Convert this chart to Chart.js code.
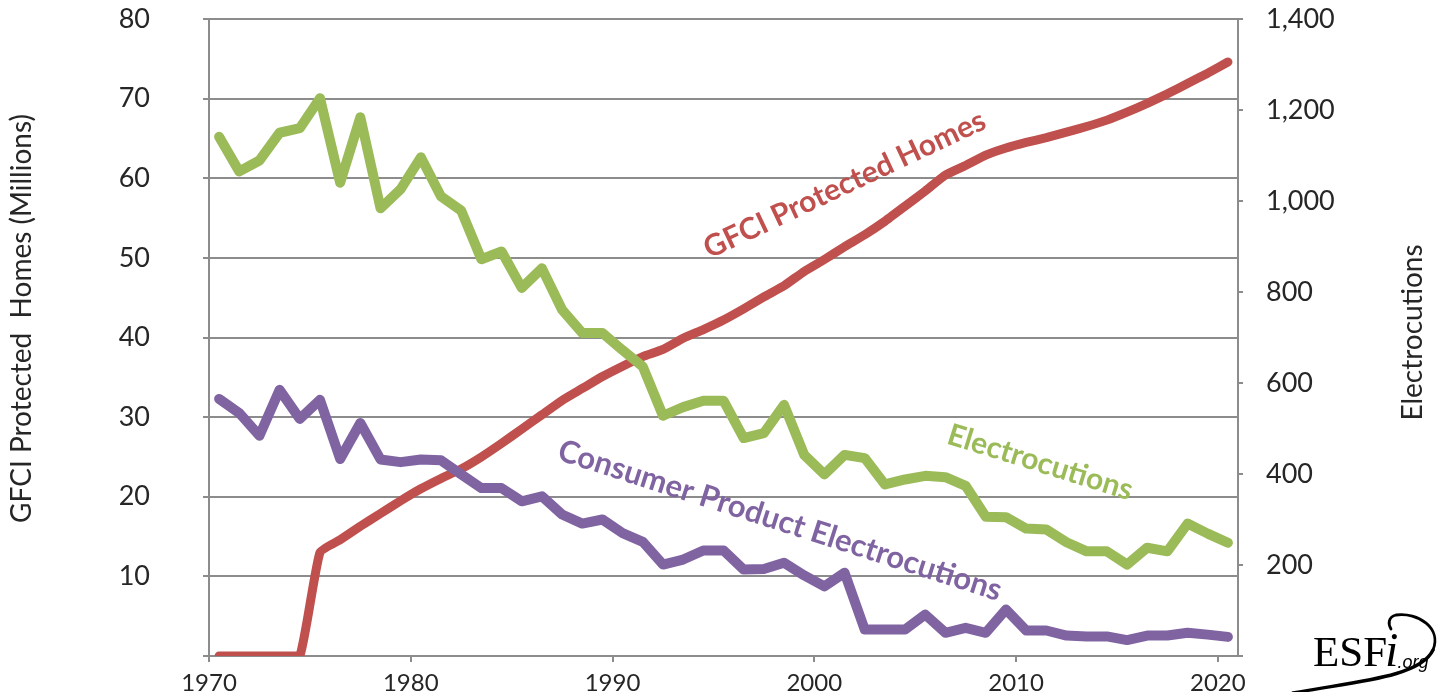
<!DOCTYPE html>
<html>
<head>
<meta charset="utf-8">
<script src="https://cdn.jsdelivr.net/npm/chart.js@4.4.1/dist/chart.umd.min.js"></script>
<style>
  html, body { margin: 0; padding: 0; background: #ffffff; }
  #wrap { width: 1440px; height: 692px; position: relative; }
</style>
</head>
<body>
<div id="wrap"><canvas id="chart" width="1440" height="692"></canvas></div>
<script>
// ---------------- DATA ----------------
const years = [1970,1971,1972,1973,1974,1975,1976,1977,1978,1979,
               1980,1981,1982,1983,1984,1985,1986,1987,1988,1989,
               1990,1991,1992,1993,1994,1995,1996,1997,1998,1999,
               2000,2001,2002,2003,2004,2005,2006,2007,2008,2009,
               2010,2011,2012,2013,2014,2015,2016,2017,2018,2019,2020];

// GFCI protected homes (millions) – left axis
const gfciHomes = [0,0,0,0,0,13.0,14.6,16.3,17.9,19.5,
                   21.0,22.3,23.5,25.0,26.7,28.5,30.3,32.1,33.6,35.1,
                   36.4,37.6,38.5,39.9,41.0,42.2,43.6,45.1,46.5,48.3,
                   49.8,51.4,52.9,54.6,56.5,58.4,60.4,61.6,62.9,63.8,
                   64.5,65.1,65.8,66.5,67.3,68.3,69.4,70.6,71.9,73.2,74.6];

// Electrocutions – right axis
const electrocutions = [1141,1065,1089,1150,1160,1226,1040,1184,984,1026,
                        1096,1010,979,872,889,809,852,761,710,710,
                        672,636,528,547,561,561,479,490,552,442,
                        399,442,435,377,388,396,393,374,306,305,
                        280,278,250,230,230,201,238,230,291,269,249];

// Consumer product electrocutions – right axis
const consumerElectrocutions = [565,534,484,585,521,563,433,512,432,426,
                                432,430,399,369,369,340,351,311,291,300,
                                270,251,201,212,232,232,190,191,205,177,
                                153,183,58,58,58,91,51,62,51,102,
                                56,56,45,43,43,35,45,45,51,47,42];

const xTickLabels = ['1970','1980','1990','2000','2010','2020'];
const leftTickLabels = ['','10','20','30','40','50','60','70','80'];
const rightTickLabels = ['','200','400','600','800','1,000','1,200','1,400'];

const seriesNames = ['Consumer Product Electrocutions','Electrocutions','GFCI Protected Homes'];
const axisTitles = { left: 'GFCI Protected  Homes (Millions)', right: 'Electrocutions' };

// ---------------- STYLE ----------------
const RED = '#C0504D', GREEN = '#9BBB59', PURPLE = '#8064A2';
const GRID = '#8C8C8C', TEXT = '#262626';
const FONT = 'Lato, "Open Sans", sans-serif';
const YEAR_MID = 0.5; // each yearly value is plotted mid-year

const toPoints = (vals) => vals.map((v, i) => ({ x: years[i] + YEAR_MID, y: v }));

// Rotated in-chart series labels, placed in data coordinates
const seriesLabelPlugin = {
  id: 'seriesLabels',
  afterDatasetsDraw(chart, args, opts) {
    const ctx = chart.ctx;
    const xs = chart.scales.x, ys = chart.scales.y;
    opts.items.forEach(it => {
      const px = xs.getPixelForValue(it.x);
      const py = ys.getPixelForValue(it.y);
      ctx.save();
      ctx.translate(px, py);
      ctx.rotate(it.angle * Math.PI / 180);
      ctx.font = 'bold ' + it.size + 'px ' + FONT;
      ctx.fillStyle = it.color;
      ctx.textAlign = 'center';
      ctx.textBaseline = 'middle';
      ctx.fillText(it.text, 0, 0);
      ctx.restore();
    });
  }
};

// Axis titles
const axisTitlePlugin = {
  id: 'axisTitles',
  afterDraw(chart, args, opts) {
    const ctx = chart.ctx;
    const ca = chart.chartArea;
    ctx.save();
    ctx.font = opts.size + 'px ' + FONT;
    ctx.fillStyle = TEXT;
    ctx.textAlign = 'center';
    ctx.textBaseline = 'middle';
    ctx.save();
    ctx.translate(opts.leftX, (ca.top + ca.bottom) / 2 + opts.leftShift);
    ctx.rotate(-Math.PI / 2);
    ctx.fillText(axisTitles.left, 0, 0);
    ctx.restore();
    ctx.save();
    ctx.translate(chart.width - opts.rightInset, (ca.top + ca.bottom) / 2 + opts.rightShift);
    ctx.rotate(-Math.PI / 2);
    ctx.fillText(axisTitles.right, 0, 0);
    ctx.restore();
    ctx.restore();
  }
};

// ESFi.org logo (bottom-right corner)
const logoPlugin = {
  id: 'logo',
  afterDraw(chart) {
    const ctx = chart.ctx;
    const W = chart.width, H = chart.height;
    ctx.save();
    ctx.fillStyle = '#000';
    ctx.textAlign = 'left';
    ctx.textBaseline = 'alphabetic';
    const bx = W - 127, by = H - 26;
    ctx.font = '43px "Liberation Serif", "DejaVu Serif", serif';
    ctx.fillText('ESF', bx, by);
    let w = ctx.measureText('ESF').width;
    ctx.font = 'italic 48px "Liberation Serif", "DejaVu Serif", serif';
    ctx.fillText('i', bx + w - 2, by);
    w += ctx.measureText('i').width - 3;
    ctx.font = 'italic 18px "Liberation Sans", Arial, sans-serif';
    ctx.fillText('.org', bx + w, by + 2);
    ctx.strokeStyle = '#000';
    ctx.lineCap = 'round';
    ctx.beginPath();
    ctx.moveTo(W - 147, H + 1);
    ctx.bezierCurveTo(W - 90, H - 10, W - 20, H - 14, W - 7, H - 42);
    ctx.lineWidth = 3.4;
    ctx.stroke();
    ctx.beginPath();
    ctx.moveTo(W - 7, H - 42);
    ctx.bezierCurveTo(W + 2, H - 64, W - 22, H - 80, W - 44, H - 77);
    ctx.bezierCurveTo(W - 52, H - 75, W - 52, H - 68, W - 49, H - 63);
    ctx.lineWidth = 2.8;
    ctx.stroke();
    ctx.restore();
  }
};

const noVerticalPadding = (s) => { s.paddingTop = 0; s.paddingBottom = 0; };

const ctx = document.getElementById('chart').getContext('2d');
new Chart(ctx, {
  type: 'line',
  data: {
    datasets: [
      { label: seriesNames[0], data: toPoints(consumerElectrocutions), yAxisID: 'y1',
        borderColor: PURPLE, borderWidth: 10, pointRadius: 0, tension: 0,
        borderJoinStyle: 'round', borderCapStyle: 'round', fill: false },
      { label: seriesNames[1], data: toPoints(electrocutions), yAxisID: 'y1',
        borderColor: GREEN, borderWidth: 10, pointRadius: 0, tension: 0,
        borderJoinStyle: 'round', borderCapStyle: 'round', fill: false },
      { label: seriesNames[2], data: toPoints(gfciHomes), yAxisID: 'y',
        borderColor: RED, borderWidth: 9, pointRadius: 0, tension: 0.15,
        borderJoinStyle: 'round', borderCapStyle: 'round', fill: false }
    ]
  },
  options: {
    responsive: false,
    animation: false,
    events: [],
    layout: { padding: { top: 19, left: 0, right: 0, bottom: 0 } },
    plugins: {
      legend: { display: false },
      tooltip: { enabled: false },
      seriesLabels: {
        items: [
          { text: seriesNames[2], color: RED, x: 2001.5, y: 59.2, angle: -25.3, size: 30 },
          { text: seriesNames[1], color: GREEN, x: 2011.2, y: 24.3, angle: 17.3, size: 30 },
          { text: seriesNames[0], color: PURPLE, x: 1998.3, y: 17.0, angle: 17.8, size: 31 }
        ]
      },
      axisTitles: { size: 28, leftX: 22, leftShift: -19, rightInset: 27, rightShift: -5 }
    },
    scales: {
      x: {
        type: 'linear',
        min: 1970, max: 2021,
        afterFit: s => { s.height = 36; },
        grid: { drawOnChartArea: false, drawTicks: true, tickLength: 6, color: GRID, lineWidth: 2 },
        border: { display: true, color: GRID, width: 2 },
        ticks: {
          stepSize: 10, includeBounds: false, autoSkip: false, maxRotation: 0,
          padding: 7, color: TEXT, font: { family: FONT, size: 24 },
          callback: (v) => xTickLabels[(v - 1970) / 10] ?? ''
        }
      },
      y: {
        position: 'left',
        min: 0, max: 80,
        afterFit: s => { s.width = 209; noVerticalPadding(s); },
        grid: { color: GRID, lineWidth: 2, drawTicks: true, tickLength: 6, tickColor: GRID },
        border: { display: true, color: GRID, width: 2 },
        ticks: {
          stepSize: 10, padding: 53, color: TEXT, font: { family: FONT, size: 27 },
          callback: (v) => leftTickLabels[v / 10] ?? ''
        }
      },
      y1: {
        position: 'right',
        min: 0, max: 1400,
        afterFit: s => { s.width = 202; noVerticalPadding(s); },
        grid: { drawOnChartArea: false, drawTicks: true, tickLength: 5, color: GRID, lineWidth: 2 },
        border: { display: true, color: GRID, width: 2 },
        ticks: {
          stepSize: 200, padding: 23, color: TEXT, font: { family: FONT, size: 27 },
          callback: (v) => rightTickLabels[v / 200] ?? ''
        }
      }
    }
  },
  plugins: [seriesLabelPlugin, axisTitlePlugin, logoPlugin]
});
</script>
</body>
</html>
